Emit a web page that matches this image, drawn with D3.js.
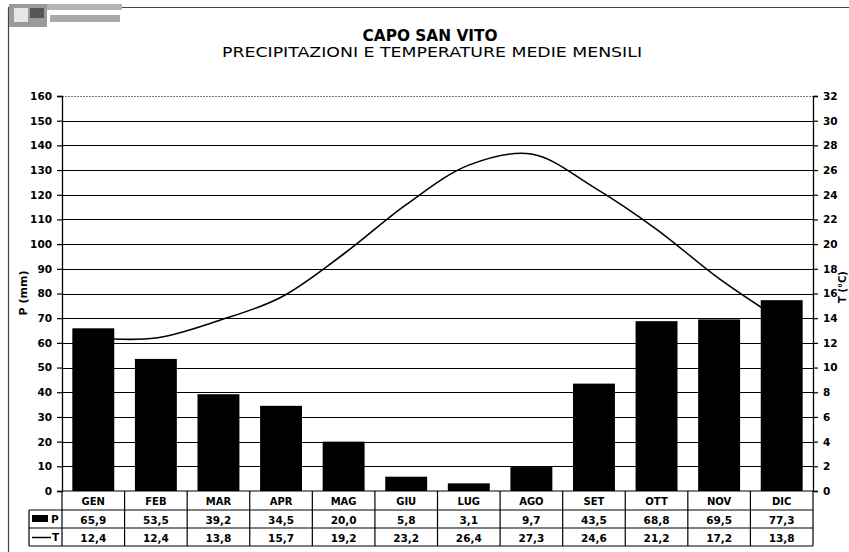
<!DOCTYPE html>
<html><head><meta charset="utf-8">
<script src="https://cdn.jsdelivr.net/npm/d3@7"></script>
<style>
body{margin:0;background:#fff;}
svg{display:block;font-family:"DejaVu Sans",Verdana,sans-serif;}
</style></head>
<body><svg id="c" width="849" height="552"></svg>
<script>
const months = ["GEN","FEB","MAR","APR","MAG","GIU","LUG","AGO","SET","OTT","NOV","DIC"];
const precip = [65.9,53.5,39.2,34.5,20.0,5.8,3.1,9.7,43.5,68.8,69.5,77.3];
const temp = [12.4,12.4,13.8,15.7,19.2,23.2,26.4,27.3,24.6,21.2,17.2,13.8];
const pTicks = [0,10,20,30,40,50,60,70,80,90,100,110,120,130,140,150,160];
const tTicks = [0,2,4,6,8,10,12,14,16,18,20,22,24,26,28,30,32];
const title = "CAPO SAN VITO";
const subtitle = "PRECIPITAZIONI E TEMPERATURE MEDIE MENSILI";

const svg = d3.select("#c");
const L = 62, R = 813, T = 96, B = 491;
const x = d3.scaleBand().domain(months).range([L, R]).paddingInner(0.33).paddingOuter(0.165);
const xc = d3.scaleBand().domain(months).range([L, R]);
const yP = d3.scaleLinear().domain([0,160]).range([B, T]);
const yT = d3.scaleLinear().domain([0,32]).range([B, T]);
const fmt = v => d3.format(".1f")(v).replace(".", ",");

// frame
svg.append("line").attr("x1",8.5).attr("x2",8.5).attr("y1",7).attr("y2",552).attr("stroke","#444").attr("stroke-width",1.2);
svg.append("line").attr("x1",8).attr("x2",849).attr("y1",7.5).attr("y2",7.5).attr("stroke","#444").attr("stroke-width",1.2);
// logo approximation
const lg = svg.append("g");
lg.append("rect").attr("x",9).attr("y",4).attr("width",38).attr("height",23).attr("fill","#9a9a9a");
lg.append("rect").attr("x",14).attr("y",8).attr("width",14).attr("height",14).attr("fill","#e6e6e6");
lg.append("rect").attr("x",30).attr("y",8).attr("width",14).attr("height",10).attr("fill","#555");
lg.append("rect").attr("x",47).attr("y",4).attr("width",75).attr("height",6).attr("fill","#b5b5b5");
lg.append("rect").attr("x",50).attr("y",15).attr("width",70).attr("height",7).attr("fill","#aaa");

// titles
svg.append("text").attr("x",430).attr("y",41).attr("text-anchor","middle").attr("font-weight","bold")
  .attr("font-size",15).attr("textLength",135).attr("lengthAdjust","spacingAndGlyphs").text(title);
svg.append("text").attr("x",432).attr("y",57).attr("text-anchor","middle").attr("font-size",14.5)
  .attr("textLength",420).attr("lengthAdjust","spacingAndGlyphs").text(subtitle);

// grid
svg.append("g").selectAll("line").data(pTicks.filter(d=>d>0 && d<160)).join("line")
  .attr("x1",L).attr("x2",R).attr("y1",d=>Math.round(yP(d))+0.5).attr("y2",d=>Math.round(yP(d))+0.5)
  .attr("stroke","#000").attr("stroke-width",1.2);
svg.append("line").attr("x1",L).attr("x2",R).attr("y1",T+0.5).attr("y2",T+0.5)
  .attr("stroke","#777").attr("stroke-dasharray","2,1");

// bars
svg.append("g").selectAll("rect").data(months).join("rect")
  .attr("x",d=>x(d)).attr("width",x.bandwidth())
  .attr("y",(d,i)=>yP(precip[i])).attr("height",(d,i)=>B-yP(precip[i]))
  .attr("fill","#000");

// temperature line
const line = d3.line().x((d,i)=>xc(months[i])+xc.bandwidth()/2).y(d=>yT(d)).curve(d3.curveCatmullRom);
svg.append("path").datum(temp).attr("d",line).attr("fill","none").attr("stroke","#000").attr("stroke-width",1.6);

// axes
const axL = svg.append("g").attr("transform",`translate(${L},0)`)
  .call(d3.axisLeft(yP).tickValues(pTicks).tickSize(5).tickPadding(5));
const axR = svg.append("g").attr("transform",`translate(${R},0)`)
  .call(d3.axisRight(yT).tickValues(tTicks).tickSize(5).tickPadding(5));
[axL, axR].forEach(a=>{
  a.select(".domain").attr("stroke","#000").attr("stroke-width",1.3);
  a.selectAll(".tick line").attr("stroke","#000").attr("stroke-width",1.2);
  a.selectAll(".tick text").attr("font-family","DejaVu Sans, sans-serif").attr("font-weight","bold").attr("font-size",10.5).attr("fill","#000");
});

// axis titles
svg.append("text").attr("transform","translate(27,293) rotate(-90)").attr("text-anchor","middle")
  .attr("font-weight","bold").attr("font-size",11).text("P (mm)");
svg.append("text").attr("transform","translate(846,287) rotate(-90)").attr("text-anchor","middle")
  .attr("font-weight","bold").attr("font-size",10).text("T (°C)");

// data table
const rowY = [491, 510, 528, 546];
const tb = svg.append("g").attr("stroke","#000").attr("stroke-width",1.2);
tb.append("line").attr("x1",L).attr("x2",R).attr("y1",rowY[0]).attr("y2",rowY[0]);
[1,2,3].forEach(k=>tb.append("line").attr("x1",29).attr("x2",R).attr("y1",rowY[k]).attr("y2",rowY[k]));
tb.append("line").attr("x1",29).attr("x2",29).attr("y1",rowY[1]).attr("y2",rowY[3]);
tb.selectAll("line.v").data(months.concat(["end"])).join("line").attr("class","v")
  .attr("x1",(d,i)=>L+i*xc.step()).attr("x2",(d,i)=>L+i*xc.step()).attr("y1",rowY[0]).attr("y2",rowY[3]);

const tx = svg.append("g").attr("font-weight","bold").attr("font-size",10.5).attr("text-anchor","middle");
tx.selectAll("text.m").data(months).join("text").attr("class","m")
  .attr("x",d=>xc(d)+xc.bandwidth()/2).attr("y",rowY[0]+14).attr("font-size",10).text(d=>d);
tx.selectAll("text.p").data(precip).join("text").attr("class","p")
  .attr("x",(d,i)=>xc(months[i])+xc.bandwidth()/2).attr("y",rowY[1]+13.5).text(fmt);
tx.selectAll("text.t").data(temp).join("text").attr("class","t")
  .attr("x",(d,i)=>xc(months[i])+xc.bandwidth()/2).attr("y",rowY[2]+13.5).text(fmt);

// legend keys
svg.append("rect").attr("x",32).attr("y",515).attr("width",16).attr("height",7).attr("fill","#000");
svg.append("text").attr("x",51).attr("y",523).attr("font-weight","bold").attr("font-size",10.5).text("P");
svg.append("line").attr("x1",32).attr("x2",51).attr("y1",537.5).attr("y2",537.5).attr("stroke","#000").attr("stroke-width",1.5);
svg.append("text").attr("x",52).attr("y",541).attr("font-weight","bold").attr("font-size",10.5).text("T");
</script></body></html>
